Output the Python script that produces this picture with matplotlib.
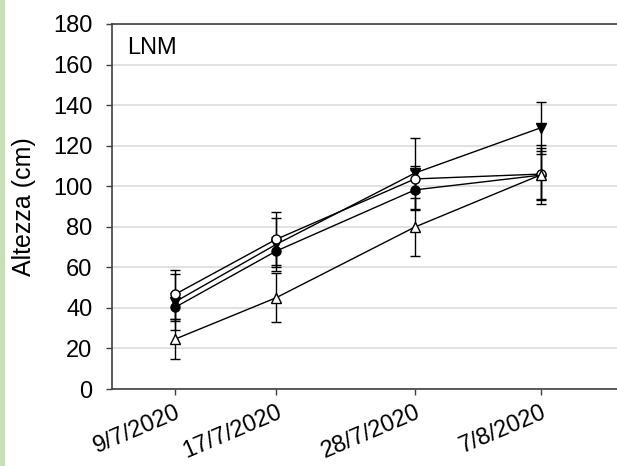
import matplotlib
matplotlib.use("Agg")
import matplotlib.pyplot as plt
from matplotlib.patches import Rectangle
import datetime as dt

plt.rcParams['font.family'] = ['Liberation Sans', 'DejaVu Sans']

dates = ["2020-07-09", "2020-07-17", "2020-07-28", "2020-08-07"]
tick_labels = ["9/7/2020", "17/7/2020", "28/7/2020", "7/8/2020"]

filled_circle = [40.3, 68.0, 98.2, 105.5]
filled_circle_err = [7, 7, 10, 12]
filled_tri_down = [43.0, 71.3, 106.5, 128.9]
filled_tri_down_err = [13.7, 13, 17.5, 12.8]
open_circle = [46.7, 73.8, 103.6, 106.0]
open_circle_err = [12, 13.4, 6.6, 13]
open_tri_up = [24.6, 45.0, 79.9, 105.7]
open_tri_up_err = [9.8, 12, 14.3, 14.5]

x = [dt.datetime.strptime(d, "%Y-%m-%d") for d in dates]

fig = plt.figure(figsize=(6.17, 4.66), dpi=100)
fig.patches.append(Rectangle((0, 0), 5 / 617, 1, transform=fig.transFigure,
                             facecolor='#c5e0b4', edgecolor='none', zorder=0))
ax = fig.add_axes([112 / 617, 1 - 389 / 466, (617 - 112) / 617, (389 - 24) / 466])

series = [
    (filled_circle, filled_circle_err, 'o', 'black'),
    (filled_tri_down, filled_tri_down_err, 'v', 'black'),
    (open_circle, open_circle_err, 'o', 'white'),
    (open_tri_up, open_tri_up_err, '^', 'white'),
]
for vals, errs, m, fc in series:
    ax.errorbar(x, vals, yerr=errs, color='black', lw=1.0, elinewidth=1.0,
                capsize=3.5, capthick=1.0, marker=m, markersize=6.5,
                markerfacecolor=fc, markeredgecolor='black', markeredgewidth=1.0,
                zorder=3)

ax.set_xlim(dt.datetime(2020, 7, 4), dt.datetime(2020, 8, 13))
ax.set_ylim(0, 180)
ax.set_yticks(range(0, 181, 20))
ax.set_xticks(x)
ax.set_xticklabels(tick_labels, rotation=23, ha='right', rotation_mode='anchor')
ax.grid(axis='y', color='#d9d9d9', lw=1.1)
ax.set_axisbelow(True)

for s in ['left', 'bottom', 'top']:
    ax.spines[s].set_color('#404040')
    ax.spines[s].set_linewidth(1.2)
ax.spines['right'].set_visible(False)
ax.tick_params(axis='both', direction='out', length=4, width=1, color='#404040',
               labelsize=17)
ax.tick_params(axis='y', pad=10)
ax.tick_params(axis='x', pad=5)
ax.set_ylabel("Altezza (cm)", fontsize=18)
ax.yaxis.set_label_coords(-0.15, 0.5)
ax.text(0.03, 0.965, "LNM", transform=ax.transAxes, fontsize=17, va='top', ha='left')

fig.savefig("out.png", dpi=100)
